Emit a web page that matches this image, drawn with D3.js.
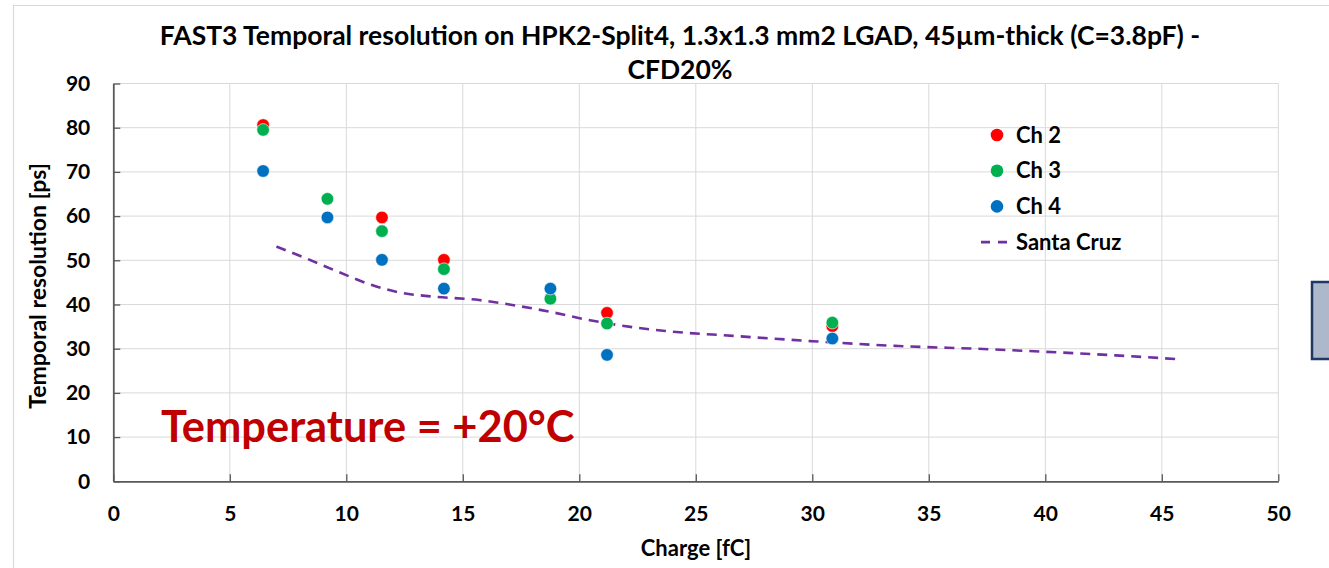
<!DOCTYPE html>
<html><head><meta charset="utf-8">
<script src="https://cdn.jsdelivr.net/npm/d3@7/dist/d3.min.js"></script>
<style>body{margin:0;background:#fff;} svg{display:block;font-family:Lato,"Open Sans",sans-serif;}</style>
</head><body>
<script>
const titleLines = ["FAST3 Temporal resolution on HPK2-Split4, 1.3x1.3 mm2 LGAD, 45µm-thick (C=3.8pF) -", "CFD20%"];
const xTicks = [0,5,10,15,20,25,30,35,40,45,50];
const yTicks = [0,10,20,30,40,50,60,70,80,90];
const ch2 = [[6.43,80.6],[11.53,59.7],[14.19,50.1],[21.19,38.1],[30.86,35.1]];
const ch3 = [[6.43,79.5],[9.19,63.9],[11.53,56.6],[14.19,48.0],[18.76,41.3],[21.19,35.7],[30.86,35.9]];
const ch4 = [[6.43,70.2],[9.19,59.7],[11.53,50.1],[14.19,43.6],[18.76,43.6],[21.19,28.6],[30.86,32.3]];
const santaCruz = [[7.0,53.1],[8.3,50.4],[9.7,47.3],[11.1,44.4],[12.3,42.7],[13.7,41.8],[15.7,41.0],[17.0,40.0],[18.7,38.4],[20.3,36.6],[21.6,35.4],[23.7,34.0],[26.6,32.9],[30.0,31.7],[33.7,30.6],[37.0,30.0],[40.0,29.3],[43.0,28.5],[45.8,27.6]];
const legendItems = ["Ch 2","Ch 3","Ch 4","Santa Cruz"];
const colors = {ch2:"#ff0000", ch3:"#00b050", ch4:"#0070c0", sc:"#7030a0"};

const W=1329,H=568;
const svg=d3.select("body").append("svg").attr("width",W).attr("height",H);
const x=d3.scaleLinear().domain([0,50]).range([113.3,1278.3]);
const y=d3.scaleLinear().domain([0,90]).range([481.3,83.5]);

// outer frame
svg.append("path").attr("d",`M13.5,${H} V5.5 H${W}`).attr("fill","none").attr("stroke","#d9d9d9").attr("stroke-width",1.2);

// grid
svg.append("g").selectAll("line").data(xTicks.slice(1)).join("line")
  .attr("x1",d=>x(d)).attr("x2",d=>x(d)).attr("y1",y(0)).attr("y2",y(90))
  .attr("stroke","#d9d9d9").attr("stroke-width",1);
svg.append("g").selectAll("line").data(yTicks.slice(1)).join("line")
  .attr("x1",x(0)).attr("x2",x(50)).attr("y1",d=>y(d)).attr("y2",d=>y(d))
  .attr("stroke","#d9d9d9").attr("stroke-width",1);

// axes
const xAxis=svg.append("g").attr("transform",`translate(0,${y(0)})`)
  .call(d3.axisBottom(x).tickValues(xTicks).tickSize(-7).tickPadding(25).tickSizeOuter(0));
const yAxis=svg.append("g").attr("transform",`translate(${x(0)},0)`)
  .call(d3.axisLeft(y).tickValues(yTicks).tickSize(-7).tickPadding(23).tickSizeOuter(0));
[xAxis,yAxis].forEach(a=>{
  a.select(".domain").attr("stroke","#595959").attr("stroke-width",1.8);
  a.selectAll(".tick line").attr("stroke","#595959").attr("stroke-width",1.3);
  a.selectAll(".tick text").attr("font-family","Lato").attr("font-weight","bold").attr("font-size",21).attr("fill","#000");
});

// Santa Cruz line
svg.append("path").datum(santaCruz)
  .attr("d",d3.line().x(d=>x(d[0])).y(d=>y(d[1])).curve(d3.curveMonotoneX))
  .attr("fill","none").attr("stroke",colors.sc).attr("stroke-width",2.6).attr("stroke-dasharray","10,7");

// points
[[ch2,colors.ch2],[ch3,colors.ch3],[ch4,colors.ch4]].forEach(([data,c])=>{
  svg.append("g").selectAll("circle").data(data).join("circle")
    .attr("cx",d=>x(d[0])).attr("cy",d=>y(d[1])).attr("r",6.3)
    .attr("fill",c).attr("stroke","#fff").attr("stroke-width",0.6);
});

// title
svg.append("g").selectAll("text").data(titleLines).join("text")
  .attr("x",680).attr("y",(d,i)=>45+i*34).attr("text-anchor","middle")
  .attr("font-weight","bold").attr("font-size",26.5).attr("fill","#000").text(d=>d);

// axis titles
svg.append("text").attr("x",696).attr("y",556).attr("text-anchor","middle")
  .attr("font-weight","bold").attr("font-size",22).text("Charge [fC]");
svg.append("text").attr("transform","translate(46,286) rotate(-90)").attr("text-anchor","middle")
  .attr("font-weight","bold").attr("font-size",23).text("Temporal resolution [ps]");

// temperature annotation
svg.append("text").attr("x",161).attr("y",442).attr("font-weight","bold").attr("font-size",43.4)
  .attr("fill","#c00000").text("Temperature = +20°C");

// legend
const lg=svg.append("g");
legendItems.forEach((t,i)=>{
  const yy=135+i*35.7;
  if(i<3){
    lg.append("circle").attr("cx",997).attr("cy",yy).attr("r",6.3).attr("fill",[colors.ch2,colors.ch3,colors.ch4][i]);
  } else {
    lg.append("line").attr("x1",981).attr("x2",1008).attr("y1",yy).attr("y2",yy)
      .attr("stroke",colors.sc).attr("stroke-width",2.6).attr("stroke-dasharray","9,8");
  }
  lg.append("text").attr("x",1016).attr("y",yy+7.5).attr("font-weight","bold").attr("font-size",22).text(t);
});

// side box fragment
svg.append("rect").attr("x",1312).attr("y",282).attr("width",30).attr("height",77)
  .attr("fill","#adb9ca").attr("stroke","#1f3864").attr("stroke-width",2.5);
</script>
</body></html>
